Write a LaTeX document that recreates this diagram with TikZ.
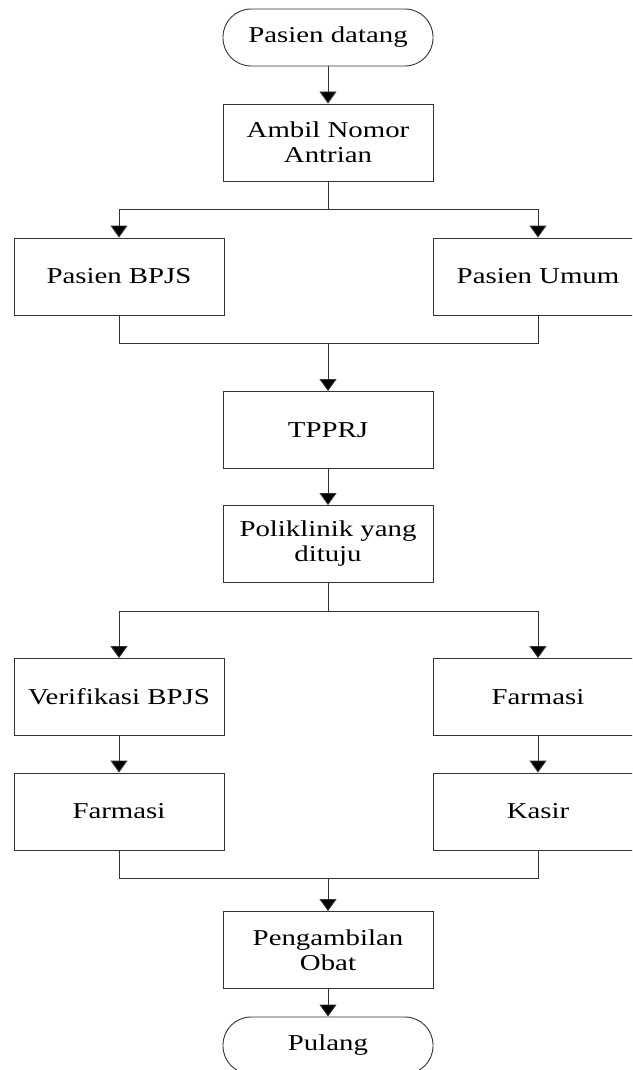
\documentclass[tikz,border=0pt]{standalone}
\usepackage{fontspec}
\usepackage{graphicx}
\setmainfont{Liberation Serif}
\usetikzlibrary{arrows.meta}
\newcommand{\hs}[1]{\scalebox{1.27}[1]{#1}}
\begin{document}
\begin{tikzpicture}[x=1pt,y=-1pt,
  proc/.style={draw=black!80, line width=0.9pt, minimum width=210pt, minimum height=77pt, inner sep=0pt, align=center, font=\fontsize{22.7}{25}\selectfont},
  term/.style={proc, minimum height=57pt, rounded corners=28pt},
  conn/.style={draw=black!80, line width=0.9pt},
  arr/.style={conn, -{Triangle[width=17pt,length=12pt,fill=black]}}]
\useasboundingbox (0,0) rectangle (632,1070);
\clip (0,0) rectangle (632,1070);
\node[term] (start) at (328,37.5) {\hs{Pasien datang}};
\node[proc] (ambil) at (328,142.5) {\hs{Ambil Nomor}\\\hs{Antrian}};
\node[proc] (bpjs) at (119,276.5) {\hs{Pasien BPJS}};
\node[proc] (umum) at (538,276.5) {\hs{Pasien Umum}};
\node[proc] (tpprj) at (328,430) {\hs{TPPRJ}};
\node[proc] (poli) at (328,544) {\hs{Poliklinik yang}\\\hs{dituju}};
\node[proc] (verif) at (119,697) {\hs{Verifikasi BPJS}};
\node[proc] (farmR) at (538,697) {\hs{Farmasi}};
\node[proc] (farmL) at (119,811.5) {\hs{Farmasi}};
\node[proc] (kasir) at (538,811.5) {\hs{Kasir}};
\node[proc] (obat) at (328,950) {\hs{Pengambilan}\\\hs{Obat}};
\node[term] (pulang) at (328,1045.5) {\hs{Pulang}};
\coordinate (b1) at (328,209);
\coordinate (m1) at (328,343);
\coordinate (b2) at (328,611);
\coordinate (m2) at (328,878);
\draw[arr] (start) -- (ambil);
\draw[conn] (ambil) -- (b1);
\draw[arr] (b1) -| (bpjs);
\draw[arr] (b1) -| (umum);
\draw[conn] (bpjs) |- (m1);
\draw[conn] (umum) |- (m1);
\draw[arr] (m1) -- (tpprj);
\draw[arr] (tpprj) -- (poli);
\draw[conn] (poli) -- (b2);
\draw[arr] (b2) -| (verif);
\draw[arr] (b2) -| (farmR);
\draw[arr] (verif) -- (farmL);
\draw[arr] (farmR) -- (kasir);
\draw[conn] (farmL) |- (m2);
\draw[conn] (kasir) |- (m2);
\draw[arr] (m2) -- (obat);
\draw[arr] (obat) -- (pulang);
\end{tikzpicture}
\end{document}
